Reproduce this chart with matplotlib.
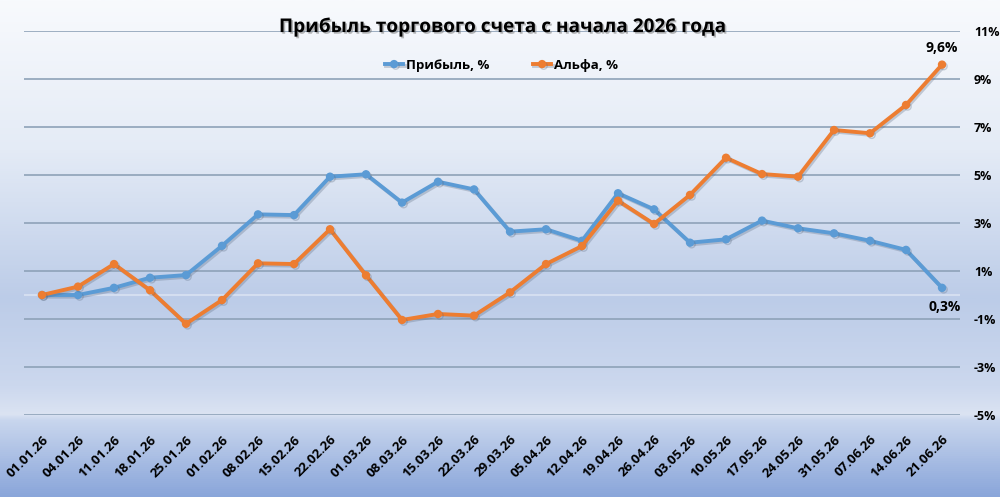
import matplotlib
matplotlib.use("Agg")
import matplotlib.pyplot as plt
import matplotlib.patheffects as pe
import numpy as np
from matplotlib.colors import LinearSegmentedColormap

dates = ["01.01.26", "04.01.26", "11.01.26", "18.01.26", "25.01.26", "01.02.26",
         "08.02.26", "15.02.26", "22.02.26", "01.03.26", "08.03.26", "15.03.26",
         "22.03.26", "29.03.26", "05.04.26", "12.04.26", "19.04.26", "26.04.26",
         "03.05.26", "10.05.26", "17.05.26", "24.05.26", "31.05.26", "07.06.26",
         "14.06.26", "21.06.26"]
profit = [0.0, 0.0, 0.3, 0.72, 0.83, 2.05, 3.36, 3.33, 4.93, 5.03, 3.85, 4.72,
          4.4, 2.64, 2.74, 2.26, 4.24, 3.57, 2.18, 2.32, 3.1, 2.78, 2.57, 2.26,
          1.88, 0.3]
alfa = [0.0, 0.35, 1.29, 0.2, -1.2, -0.21, 1.32, 1.29, 2.74, 0.82, -1.04, -0.79,
        -0.86, 0.11, 1.29, 2.04, 3.93, 2.96, 4.17, 5.72, 5.04, 4.93, 6.875, 6.74,
        7.92, 9.6]
yticks = [-5, -3, -1, 1, 3, 5, 7, 9, 11]
title = "Прибыль торгового счета с начала 2026 года"
name_profit = "Прибыль, %"
name_alfa = "Альфа, %"

plt.rcParams['font.family'] = ['Open Sans', 'DejaVu Sans']

fig = plt.figure(figsize=(10, 4.97), dpi=100)

# background gradient
bg = fig.add_axes([0, 0, 1, 1], zorder=-10)
stops = [(0.0, "#f8fafd"), (0.30, "#e4ebf6"), (0.60, "#bccce8"),
         (0.78, "#ccd8ee"), (0.835, "#dbe3f2"), (0.845, "#cad7ee"),
         (1.0, "#8aa6da")]
cmap = LinearSegmentedColormap.from_list("bg", stops)
grad = np.linspace(0, 1, 500).reshape(-1, 1)
bg.imshow(grad, aspect='auto', cmap=cmap, extent=[0, 1, 1, 0])
bg.set_axis_off()

ax = fig.add_axes([0.024, 0.165, 0.936, 0.7726])
ax.set_facecolor('none')
x = np.arange(len(dates))

shadow = [pe.SimpleLineShadow(offset=(1.2, -1.2), shadow_color='#5a6a80', alpha=0.3), pe.Normal()]
ax.plot(x, profit, color='#5b9bd5', lw=2.8, marker='o', ms=5, label=name_profit,
        path_effects=shadow, zorder=3, solid_joinstyle='round')
ax.plot(x, alfa, color='#ed7d31', lw=2.8, marker='o', ms=5, label=name_alfa,
        path_effects=shadow, zorder=3, solid_joinstyle='round')

ax.set_xlim(-0.5, len(dates) - 0.5)
ax.set_ylim(-5, 11)
ax.set_yticks(yticks)
ax.set_yticklabels([f"{v}%" for v in yticks], fontsize=9, fontweight='bold')
ax.yaxis.tick_right()
ax.tick_params(axis='y', length=0, pad=10)
ax.set_xticks(x)
ax.set_xticklabels(dates, rotation=45, ha='right', rotation_mode='anchor',
                   fontsize=9.5, fontweight='bold')
ax.tick_params(axis='x', length=0, pad=13)
ax.grid(axis='y', color='#8ea2b8', lw=1.2)
ax.axhline(0, color='#e8eef8', lw=1.5, alpha=0.55, zorder=1)
ax.set_axisbelow(True)
for s in ax.spines.values():
    s.set_visible(False)

ax.annotate("9,6%", (x[-1], alfa[-1]), xytext=(0, 7), textcoords='offset points',
            ha='center', va='bottom', fontsize=10, fontweight='bold')
ax.annotate("0,3%", (x[-1], profit[-1]), xytext=(2, -9), textcoords='offset points',
            ha='center', va='top', fontsize=10, fontweight='bold')

fig.text(0.502, 0.946, title, ha='center', va='center', fontsize=13.7, fontweight='bold',
         path_effects=[pe.withSimplePatchShadow(offset=(1.2, -1.2), shadow_rgbFace='#777777', alpha=0.5)])

leg = ax.legend(loc='center', bbox_to_anchor=(0.51, 0.911), ncol=2, frameon=False,
                fontsize=9.5, columnspacing=3.3, handlelength=1.4, handletextpad=0.2)
for t in leg.get_texts():
    t.set_fontweight('bold')

fig.savefig("out.png", dpi=100)
